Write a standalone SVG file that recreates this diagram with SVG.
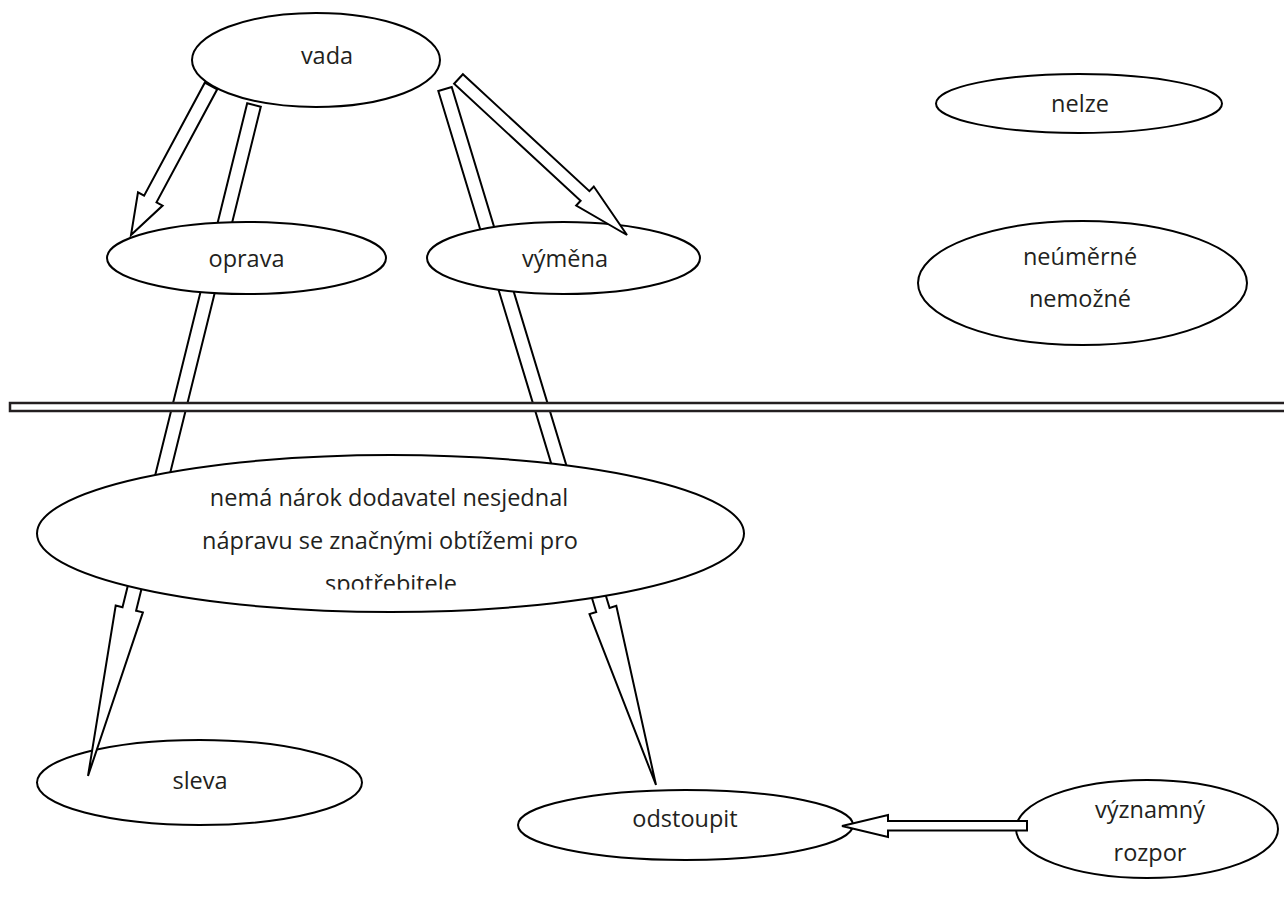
<svg xmlns="http://www.w3.org/2000/svg" width="1284" height="906" viewBox="0 0 1284 906">
<style>
.n{fill:#fff;stroke:#000;stroke-width:2}
.t{font-family:"Open Sans","Noto Sans","Liberation Sans",sans-serif;font-size:23.5px;fill:#231f20;text-anchor:middle}
.a{fill:#fff;stroke:#000;stroke-width:2;stroke-linejoin:miter}
.bar{fill:#fff;stroke:#231f20;stroke-width:2.5}
</style>
<defs>
<clipPath id="clipBig"><rect x="0" y="440" width="800" height="149.5"/></clipPath>
</defs>
<rect width="1284" height="906" fill="#fff"/>

<g id="sleva"><ellipse class="n" cx="199.5" cy="782.5" rx="162.5" ry="42.5"/><text class="t" x="200" y="789">sleva</text></g>
<g id="odstoupit"><ellipse class="n" cx="685.5" cy="825" rx="167.5" ry="35"/><text class="t" x="685" y="827">odstoupit</text></g>

<g id="connectors-under">
<polygon class="a" points="247.2,103.3 260.8,106.7 136.1,610.7 142.9,612.4 88,776 115.7,605.6 122.5,607.3"/>
<polygon class="a" points="438.3,91 451.7,87 609.6,608 616.3,605.9 656,785 589.5,614.1 596.2,612"/>
</g>

<g id="vada"><ellipse class="n" cx="316" cy="60" rx="124" ry="47"/><text class="t" x="327" y="64">vada</text></g>
<g id="oprava"><ellipse class="n" cx="246.5" cy="258" rx="139.5" ry="36"/><text class="t" x="246.5" y="267">oprava</text></g>
<g id="vymena"><ellipse class="n" cx="563.5" cy="258" rx="136.5" ry="36"/><text class="t" x="565" y="267">výměna</text></g>
<g id="nelze"><ellipse class="n" cx="1079" cy="103.5" rx="143" ry="29.5"/><text class="t" x="1080" y="112">nelze</text></g>
<g id="neumerne"><ellipse class="n" cx="1082.5" cy="283" rx="164.5" ry="62"/><text class="t" x="1080" y="265">neúměrné</text><text class="t" x="1080" y="307">nemožné</text></g>

<g id="divider"><rect class="bar" x="10" y="403" width="1290" height="8"/></g>

<g id="nema-narok"><ellipse class="n" cx="390.5" cy="533.5" rx="353.5" ry="78.5"/>
<g clip-path="url(#clipBig)"><text class="t" x="389" y="506">nemá nárok dodavatel nesjednal</text><text class="t" x="390" y="549">nápravu se značnými obtížemi pro</text><text class="t" x="391" y="591.5">spotřebitele</text></g></g>

<g id="vyznamny"><ellipse class="n" cx="1147" cy="829" rx="131" ry="49"/><text class="t" x="1150" y="818">významný</text><text class="t" x="1150" y="861">rozpor</text></g>

<g id="connectors">
<polygon class="a" points="204.8,82.7 217.2,89.3 156.5,202.3 162.6,205.6 131,235 138,192.4 144.1,195.7"/>
<polygon class="a" points="454.1,83.8 462.9,74.2 589.4,191.2 593.8,186.5 627,235 576.2,205.5 580.6,200.8"/>
<polygon class="a" points="1027,821 888,821 888,815 842,826 888,837 888,830.5 1027,830.5"/>
</g>
</svg>
